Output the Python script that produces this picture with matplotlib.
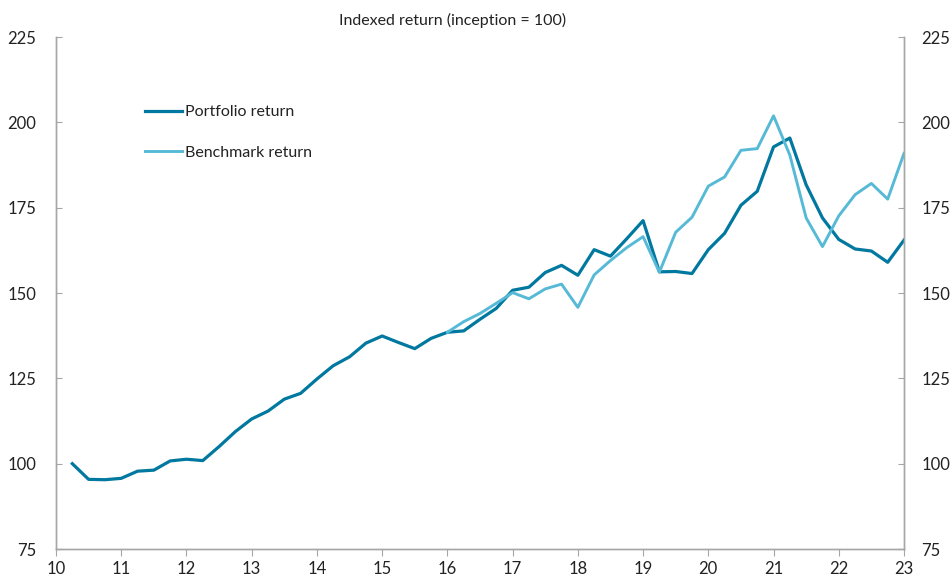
import numpy as np
import matplotlib.pyplot as plt

plt.rcParams['font.family'] = ['Lato', 'DejaVu Sans']

# Quarterly observations, 2010 Q2 .. 2023 (x axis in two-digit years)
quarters = np.arange(10.25, 23.01, 0.25)
portfolio = [100.0, 95.4, 95.3, 95.7, 97.8, 98.1, 100.8, 101.3, 100.9, 105.0,
             109.4, 113.1, 115.4, 118.9, 120.6, 124.8, 128.7, 131.3, 135.3, 137.4,
             135.5, 133.7, 136.7, 138.5, 138.9, 142.3, 145.5, 150.8, 151.7, 156.0,
             158.1, 155.2, 162.7, 160.8, 165.9, 171.2, 156.2, 156.3, 155.7, 162.7,
             167.5, 175.7, 179.8, 192.8, 195.4, 181.7, 172.0, 165.7, 162.9, 162.3,
             159.0, 165.5]

# Benchmark series starts in 2016
bench_quarters = quarters[23:]
benchmark = [138.5, 141.6, 144.0, 147.0, 150.1, 148.3, 151.2, 152.6, 145.8, 155.3,
             159.5, 163.3, 166.5, 156.1, 167.8, 172.2, 181.3, 184.0, 191.8, 192.3,
             201.9, 190.4, 172.0, 163.6, 172.6, 178.8, 182.1, 177.5, 190.9]

xticks = list(range(10, 24))
yticks = [75, 100, 125, 150, 175, 200, 225]

dark = '#00789f'
light = '#56bad6'
grey = '#a6a6a6'
txt = '#222222'

fig = plt.figure(figsize=(9.52, 5.76), dpi=100)
ax = fig.add_axes([56 / 952, 1 - 549 / 576, 848 / 952, 512 / 576])

ax.plot(quarters, portfolio, color=dark, lw=2.3, label='Portfolio return')
ax.plot(bench_quarters, benchmark, color=light, lw=2.1, label='Benchmark return')

ax.set_xlim(10, 23)
ax.set_ylim(75, 225)
ax.set_xticks(xticks)
ax.set_xticklabels([str(t) for t in xticks])
ax.set_yticks(yticks)

# mirror y axis on the right
ax2 = ax.twinx()
ax2.set_ylim(75, 225)
ax2.set_yticks(yticks)

for a in (ax, ax2):
    a.spines['top'].set_visible(False)
    for s in ('left', 'right', 'bottom'):
        a.spines[s].set_color(grey)
        a.spines[s].set_linewidth(1.0)

ax.tick_params(axis='y', direction='in', length=4, pad=14, colors=grey,
               labelcolor=txt, labelsize=12)
ax2.tick_params(axis='y', direction='in', length=4, pad=12.5, colors=grey,
                labelcolor=txt, labelsize=12)
ax.tick_params(axis='x', direction='out', length=5, pad=4, colors=grey,
               labelcolor=txt, labelsize=12)

fig.text(453 / 952, 1 - 20 / 576, 'Indexed return (inception = 100)',
         ha='center', va='center', fontsize=11.5, color=txt)

leg = ax.legend(loc='upper left', bbox_to_anchor=(145 / 952, 1 - 105 / 576),
                bbox_transform=fig.transFigure, frameon=False, fontsize=11.5,
                handlelength=2.3, handletextpad=0.2, labelspacing=1.65,
                borderpad=0, borderaxespad=0)
for t in leg.get_texts():
    t.set_color(txt)

fig.savefig('out.png', dpi=100)
